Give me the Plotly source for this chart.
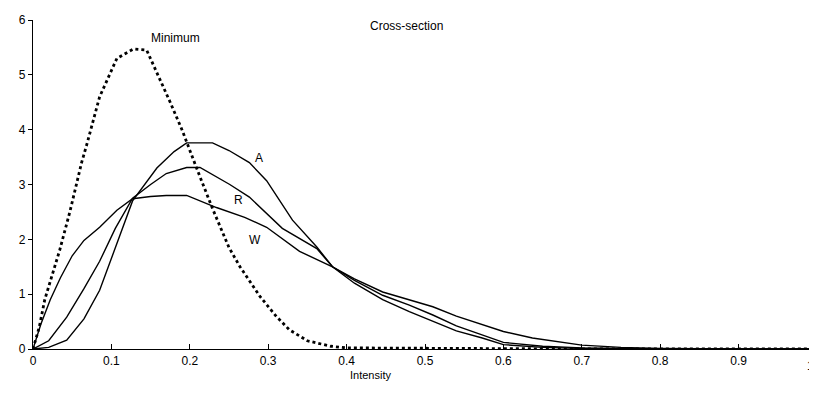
import plotly.graph_objects as go

# Minimum (dotted)
min_x = [0, 0.008, 0.015, 0.034, 0.047, 0.062, 0.069, 0.085, 0.107, 0.128, 0.145, 0.153, 0.175, 0.19, 0.197,
         0.21, 0.229, 0.25, 0.264, 0.29, 0.31, 0.327, 0.35, 0.38, 0.4, 0.5, 0.6, 0.7, 0.8, 0.9, 1.0]
min_y = [0, 0.4, 0.9, 1.8, 2.5, 3.4, 3.75, 4.6, 5.3, 5.47, 5.45, 5.2, 4.5, 4.0, 3.75,
         3.25, 2.56, 1.85, 1.5, 0.95, 0.6, 0.35, 0.15, 0.05, 0.02, 0.01, 0.01, 0.0, 0.0, 0.0, 0.0]

# A
a_x = [0, 0.02, 0.043, 0.065, 0.085, 0.105, 0.127, 0.158, 0.18, 0.196, 0.229, 0.25, 0.276, 0.298, 0.331,
       0.362, 0.382, 0.41, 0.446, 0.48, 0.51, 0.54, 0.573, 0.6, 0.65, 0.7, 0.8, 0.9, 1.0]
a_y = [0, 0.03, 0.16, 0.55, 1.07, 1.85, 2.7, 3.3, 3.6, 3.76, 3.76, 3.62, 3.4, 3.07, 2.35,
       1.86, 1.5, 1.2, 0.9, 0.68, 0.5, 0.33, 0.2, 0.08, 0.03, 0.01, 0.0, 0.0, 0.0]

# R
r_x = [0, 0.02, 0.043, 0.065, 0.085, 0.105, 0.127, 0.15, 0.17, 0.196, 0.213, 0.251, 0.276, 0.318, 0.362,
       0.382, 0.41, 0.446, 0.48, 0.51, 0.54, 0.573, 0.6, 0.65, 0.7, 0.8, 0.9, 1.0]
r_y = [0, 0.15, 0.58, 1.1, 1.6, 2.2, 2.75, 3.0, 3.2, 3.31, 3.31, 3.0, 2.77, 2.2, 1.83,
       1.5, 1.25, 0.98, 0.8, 0.62, 0.42, 0.25, 0.12, 0.05, 0.02, 0.0, 0.0, 0.0]

# W
w_x = [0, 0.01, 0.022, 0.035, 0.05, 0.065, 0.085, 0.107, 0.127, 0.15, 0.17, 0.196, 0.234, 0.27, 0.298, 0.34,
       0.382, 0.41, 0.446, 0.48, 0.51, 0.54, 0.573, 0.6, 0.637, 0.7, 0.75, 0.8, 0.9, 1.0]
w_y = [0, 0.45, 0.9, 1.3, 1.7, 1.98, 2.22, 2.53, 2.74, 2.78, 2.8, 2.8, 2.58, 2.4, 2.22, 1.78,
       1.5, 1.28, 1.04, 0.9, 0.77, 0.6, 0.44, 0.32, 0.2, 0.07, 0.03, 0.01, 0.0, 0.0]

x_ticks = [0, 0.1, 0.2, 0.3, 0.4, 0.5, 0.6, 0.7, 0.8, 0.9, 1]
x_tick_text = ["0", "0.1", "0.2", "0.3", "0.4", "0.5", "0.6", "0.7", "0.8", "0.9", "1"]
y_ticks = [0, 1, 2, 3, 4, 5, 6]

curve_labels = [("Minimum", 0.182, 5.68), ("A", 0.288, 3.49), ("R", 0.262, 2.72), ("W", 0.283, 1.99)]

FONT = "Liberation Sans, Arial"

fig = go.Figure()
fig.add_trace(go.Scatter(x=min_x, y=min_y, mode="lines",
                         line=dict(color="black", width=2.8, dash="dot"), name="Minimum"))
for xs, ys, nm in [(a_x, a_y, "A"), (r_x, r_y, "R"), (w_x, w_y, "W")]:
    fig.add_trace(go.Scatter(x=xs, y=ys, mode="lines",
                             line=dict(color="black", width=1.4), name=nm))

for txt, lx, ly in curve_labels:
    fig.add_annotation(x=lx, y=ly, text=txt, showarrow=False,
                       font=dict(family=FONT, size=12, color="black"))

# title and axis title as paper annotations
fig.add_annotation(x=0.476, y=1.009, xref="paper", yref="paper", text="Cross-section",
                   showarrow=False, font=dict(family=FONT, size=12, color="black"))
fig.add_annotation(x=0.431, y=-0.103, xref="paper", yref="paper", text="Intensity",
                   showarrow=False, font=dict(family=FONT, size=11, color="black"))
# last tick label sits on the page edge; keep it fully visible by anchoring it to the right
fig.add_annotation(x=x_ticks[-1], y=-0.052, xref="x", yref="paper", text=x_tick_text[-1],
                   showarrow=False, xanchor="right", yanchor="middle", xshift=-1,
                   font=dict(family=FONT, size=12, color="black"))

# the page body adds an 8px offset, so the figure is sized to compensate
fig.update_layout(
    width=809, height=390,
    margin=dict(l=25, r=0, t=12, b=49, autoexpand=False),
    paper_bgcolor="white", plot_bgcolor="white",
    showlegend=False,
    font=dict(family=FONT, size=12, color="black"),
)
fig.update_xaxes(range=[0, 1.0], tickvals=x_ticks[:-1], ticktext=x_tick_text[:-1],
                 showline=True, linecolor="black", linewidth=1.3,
                 ticks="inside", ticklen=5, tickcolor="black",
                 showgrid=False, zeroline=False, automargin=False,
                 tickfont=dict(size=12))
fig.update_yaxes(range=[0, 6], tickvals=y_ticks,
                 showline=True, linecolor="black", linewidth=1.3,
                 ticks="outside", ticklen=4, tickcolor="black",
                 showgrid=False, zeroline=False, automargin=False,
                 tickfont=dict(size=12))
fig.write_html("out.html")
